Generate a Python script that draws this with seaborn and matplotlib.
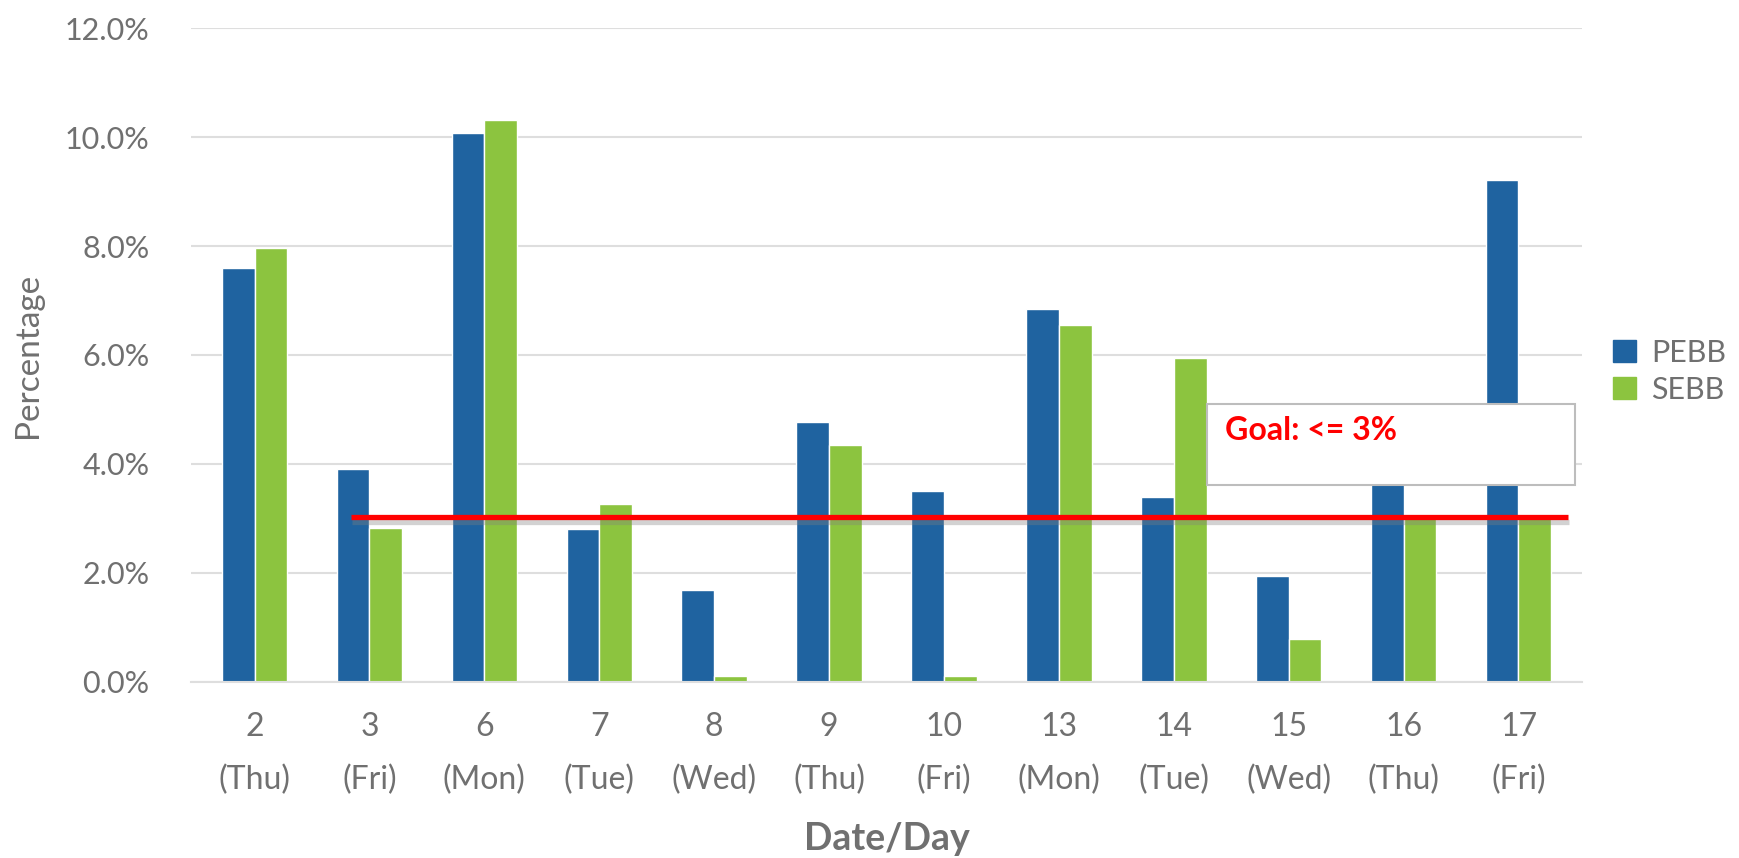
import pandas as pd
import numpy as np
import matplotlib.pyplot as plt
import matplotlib.patheffects as pe
from matplotlib.patches import Rectangle, Patch
import seaborn as sns

# data
dates = ['2', '3', '6', '7', '8', '9', '10', '13', '14', '15', '16', '17']
days = ['Thu', 'Fri', 'Mon', 'Tue', 'Wed', 'Thu', 'Fri', 'Mon', 'Tue', 'Wed', 'Thu', 'Fri']
pebb = [7.59, 3.90, 10.08, 2.80, 1.69, 4.77, 3.50, 6.85, 3.40, 1.95, 4.00, 9.21]
sebb = [7.96, 2.83, 10.32, 3.26, 0.10, 4.34, 0.10, 6.56, 5.95, 0.78, 3.02, 3.07]
goal = 3.03
yticks = [0, 2, 4, 6, 8, 10, 12]

labels = [f'{d}\n({w})' for d, w in zip(dates, days)]
df = pd.DataFrame({
    'label': labels * 2,
    'value': pebb + sebb,
    'series': ['PEBB'] * len(pebb) + ['SEBB'] * len(sebb),
})

BLUE = '#1F63A0'
GREEN = '#8CC43F'
GRAY = '#707070'

sns.set_style('white')
plt.rcParams['font.family'] = ['Lato', 'DejaVu Sans']

fig = plt.figure(figsize=(17.4, 8.58), dpi=100)
ax = fig.add_axes([0.110, 0.2055, 0.799, 0.7615])

sns.barplot(data=df, x='label', y='value', hue='series',
            palette={'PEBB': BLUE, 'SEBB': GREEN}, width=0.57,
            saturation=1, ax=ax, legend=False, zorder=2)

ax.set_ylim(0, 12)
ax.set_xlim(-0.55, len(dates) - 0.45)
ax.set_yticks(yticks)
ax.set_yticklabels([f'{v:.1f}%' for v in yticks])
ax.yaxis.grid(True, color='#DEDEDE', lw=1.5, zorder=0)
ax.set_axisbelow(True)
for s in ['top', 'right', 'left']:
    ax.spines[s].set_visible(False)
ax.spines['bottom'].set_color('#DEDEDE')
ax.spines['bottom'].set_linewidth(1.5)
ax.tick_params(axis='y', length=0, labelsize=22, colors=GRAY, pad=30)
ax.tick_params(axis='x', length=0, labelsize=23, colors=GRAY, pad=22)
for t in ax.get_xticklabels():
    t.set_linespacing(1.9)

ax.set_ylabel('Percentage', fontsize=24, color=GRAY, labelpad=16)
ax.set_xlabel('Date/Day', fontsize=27, color=GRAY, fontweight='bold', labelpad=20)

# goal line with a soft shadow
ax.plot([0.84, 11.43], [goal, goal], color='#FF0000', lw=3.8, zorder=5,
        solid_capstyle='butt',
        path_effects=[pe.SimpleLineShadow(offset=(1, -4), shadow_color='gray', alpha=0.35),
                      pe.Normal()])

# goal text box
ax.add_patch(Rectangle((8.29, 3.61), 3.2, 1.49, facecolor='white',
                       edgecolor='#BDBDBD', lw=1.5, zorder=6))
ax.text(8.45, 4.62, 'Goal: <= 3%', color='#FF0000', fontsize=23,
        fontweight='bold', va='center', ha='left', zorder=7)

handles = [Patch(color=BLUE, label='PEBB'), Patch(color=GREEN, label='SEBB')]
leg = ax.legend(handles=handles, loc='center left', bbox_to_anchor=(1.014, 0.475),
                frameon=False, fontsize=22, handlelength=0.75, handleheight=0.75,
                handletextpad=0.5, labelspacing=0.3, borderaxespad=0)
for t in leg.get_texts():
    t.set_color(GRAY)

fig.savefig('out.png', dpi=100)
